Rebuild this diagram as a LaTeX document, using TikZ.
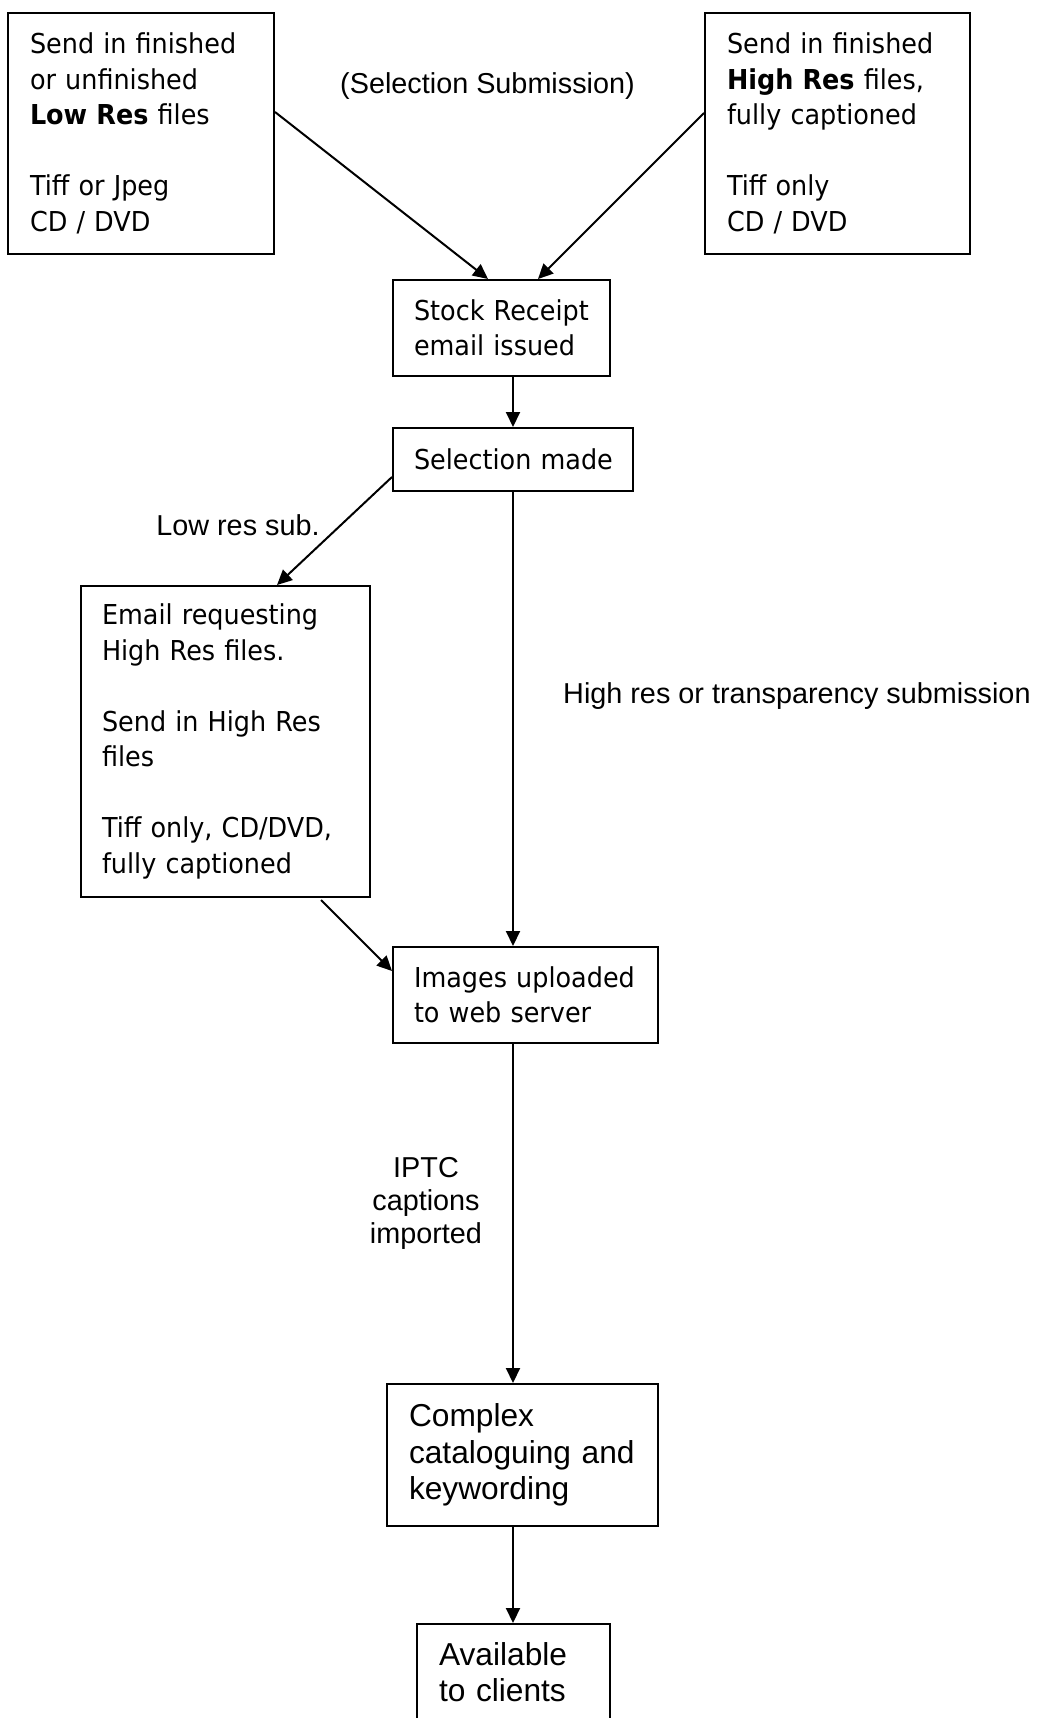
\documentclass[tikz,border=0pt]{standalone}
\usepackage{fontspec}
\setmainfont{DejaVu Sans}[FakeStretch=0.93]
\newfontfamily\arialf{Liberation Sans}
\usetikzlibrary{arrows.meta,calc}
\begin{document}
\begin{tikzpicture}[x=1pt,y=-1pt,
  box/.style={draw, line width=2pt, rectangle, inner ysep=0pt, align=left},
  tah/.style={font=\fontsize{27.4}{35.5}\selectfont},
  ari/.style={font=\arialf\fontsize{31.7}{36.7}\selectfont},
  lbl/.style={font=\arialf\fontsize{28.8}{33}\selectfont, inner sep=0pt},
  arr/.style={line width=2pt, -{Triangle[length=15pt,width=14pt]}}
]
\clip (0,0) rectangle (1042,1718);
\fill[white] (0,0) rectangle (1042,1718);

\node[box,tah,text width=222pt,inner xsep=22pt,minimum height=241pt] (low) at (141,133.5)
  {\mbox{Send in finished}\\\mbox{or unfinished}\\\mbox{\textbf{Low Res} files}\\[35.5pt]\mbox{Tiff or Jpeg}\\\mbox{CD / DVD}};
\node[box,tah,text width=221pt,inner xsep=22pt,minimum height=241pt] (high) at (837.5,133.5)
  {\mbox{Send in finished}\\\mbox{\textbf{High Res} files,}\\\mbox{fully captioned}\\[35.5pt]\mbox{Tiff only}\\\mbox{CD / DVD}};
\node[box,tah,text width=175pt,inner xsep=21pt,minimum height=96pt] (stock) at (501.5,328)
  {\mbox{Stock Receipt}\\\mbox{email issued}};
\node[box,tah,text width=198pt,inner xsep=21pt,minimum height=63pt] (sel) at (513,459.5)
  {\mbox{Selection made}};
\node[box,tah,text width=247pt,inner xsep=21pt,minimum height=311pt] (email) at (225.5,741.5)
  {\mbox{Email requesting}\\\mbox{High Res files.}\\[35.5pt]\mbox{Send in High Res}\\\mbox{files}\\[35.5pt]\mbox{Tiff only, CD/DVD,}\\\mbox{fully captioned}};
\node[box,tah,text width=223pt,inner xsep=21pt,minimum height=96pt] (img) at (525.5,995)
  {\mbox{Images uploaded}\\\mbox{to web server}};
\node[box,ari,text width=227pt,inner xsep=22pt,minimum height=142pt] (cat) at (522.5,1455)
  {\mbox{Complex}\\\mbox{cataloguing and}\\\mbox{keywording}};
\node[box,ari,text width=149pt,inner xsep=22pt,minimum height=96pt] (avail) at (513.5,1672)
  {\mbox{Available}\\\mbox{to clients}};

\node[lbl, anchor=base] (selsub) at (487.5,94) {(Selection Submission)};
\node[lbl, anchor=base] (lowsub) at (238,535) {Low res sub.};
\node[lbl, anchor=base west] (hisub) at (563,703) {High res or transparency submission};
\node[lbl, align=center] (iptc) at (426,1203) {IPTC\\captions\\imported};

\draw[arr] ([yshift=21.5pt]low.east) -- ([xshift=-13.5pt]stock.north);
\draw[arr] ([yshift=20.5pt]high.west) -- ([xshift=36.5pt]stock.north);
\draw[arr] (sel.north |- stock.south) -- (sel.north);
\draw[arr] ([yshift=-17.5pt]sel.west) -- ([xshift=51.5pt]email.north);
\draw[arr] (sel.south) -- (sel.south |- img.north);
\draw[arr] ([xshift=95.5pt,yshift=-2pt]email.south) -- ([yshift=24pt]img.west);
\draw[arr] (sel.south |- img.south) -- (sel.south |- cat.north);
\draw[arr] (sel.south |- cat.south) -- (sel.south |- avail.north);
\end{tikzpicture}
\end{document}
